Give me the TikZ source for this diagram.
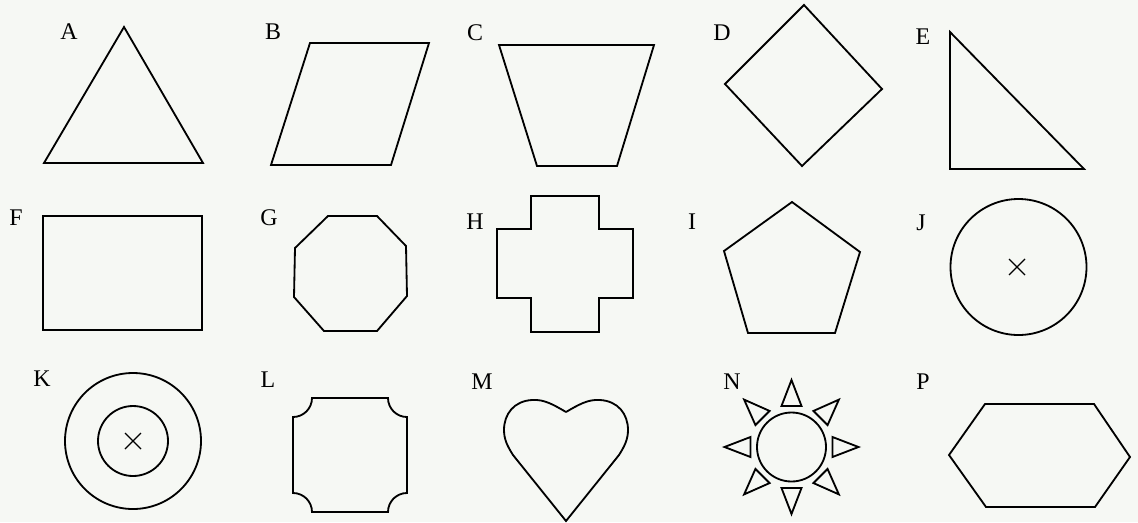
\documentclass[tikz,border=0pt]{standalone}
\usepackage{fontspec}
\setmainfont{Liberation Serif}
\usetikzlibrary{calc}
\definecolor{paper}{RGB}{246,248,244}
\newcommand{\crossat}[2]{\draw[line width=0.9pt] (#1-8,#2-8)--(#1+8,#2+8) (#1-8,#2+8)--(#1+8,#2-8);}

\begin{document}
\begin{tikzpicture}[x=0.025cm,y=-0.025cm,line width=1.3pt,
  lbl/.style={font=\fontsize{17}{20}\selectfont,inner sep=0pt}]
\fill[paper] (0,0) rectangle (1138,522);
\useasboundingbox (0,0) rectangle (1138,522);
% row 1
\node[lbl] (labA) at (69,32) {A};
\draw (124,27)--(203,163)--(44,163)--cycle;
\node[lbl] (labB) at (273,32) {B};
\draw (310,43)--(429,43)--(391,165)--(271,165)--cycle;
\node[lbl] (labC) at (475,33) {C};
\draw (499,45)--(654,45)--(617,166)--(537,166)--cycle;
\node[lbl] (labD) at (722,33) {D};
\draw (804,5)--(882,89)--(802,166)--(725,84)--cycle;
\node[lbl] (labE) at (923,37) {E};
\draw (950,32)--(1084,169)--(950,169)--cycle;
% row 2
\node[lbl] (labF) at (16,218) {F};
\draw (43,216) rectangle (202,330);
\node[lbl] (labG) at (269,218) {G};
\draw (328,216)--(377,216)--(406,246)--(407,296)--(377,331)--(324,331)--(294,297)--(295,248)--cycle;
\node[lbl] (labH) at (475,222) {H};
\draw (531,196)--(599,196)--(599,229)--(633,229)--(633,298)--(599,298)--(599,332)
  --(531,332)--(531,298)--(497,298)--(497,229)--(531,229)--cycle;
\node[lbl] (labI) at (692,222) {I};
\draw (792,202)--(860,252)--(835,333)--(748,333)--(724,251)--cycle;
\node[lbl] (labJ) at (921,223) {J};
\draw (1018.5,267) circle (68);
\crossat{1017}{267}
% row 3
\node[lbl] (labK) at (42,379) {K};
\draw (133,441) circle (68);
\draw (133,441) circle (35);
\crossat{133}{441}
\node[lbl] (labL) at (268,380) {L};
\draw (312,398)--(388,398) arc[start angle=180,end angle=90,radius=19]
  --(407,493) arc[start angle=270,end angle=180,radius=19]
  --(312,512) arc[start angle=0,end angle=-90,radius=19]
  --(293,417) arc[start angle=90,end angle=0,radius=19]--cycle;
\node[lbl] (labM) at (482,382) {M};
\draw (566,412) .. controls (578,405) and (588,399) .. (600,400)
  .. controls (618,401) and (628,414) .. (628,430)
  .. controls (628,440) and (624,447) .. (619,455) -- (566,521) -- (513,455)
  .. controls (508,447) and (504,440) .. (504,430)
  .. controls (504,414) and (514,401) .. (532,400)
  .. controls (544,399) and (554,405) .. (566,412);
\node[lbl] (labN) at (732,382) {N};
\draw (791.5,447) circle (34.5);
\foreach \a in {0,45,...,315}
  \draw[shift={(791.5,447)},rotate=\a] (41,-10)--(67,0)--(41,10)--cycle;
\node[lbl] (labP) at (923,382) {P};
\draw (985,404)--(1094,404)--(1130,457)--(1095,507)--(986,507)--(949,455)--cycle;
\end{tikzpicture}
\end{document}
